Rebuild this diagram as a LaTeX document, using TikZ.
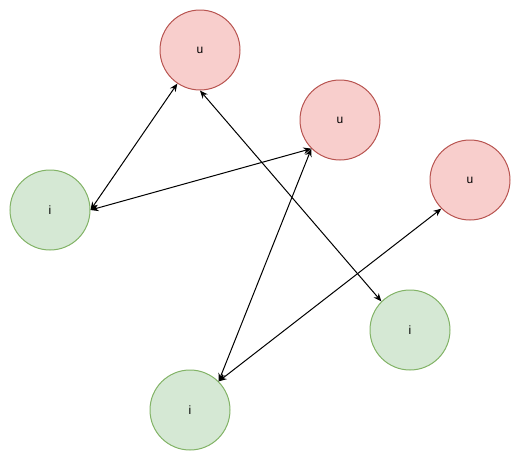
\documentclass[tikz,border=0pt]{standalone}
\usepackage{fontspec}
\setmainfont{Liberation Sans}
\usetikzlibrary{arrows.meta}
\definecolor{ufill}{HTML}{F8CECC}
\definecolor{uline}{HTML}{B85450}
\definecolor{ifill}{HTML}{D5E8D4}
\definecolor{iline}{HTML}{82B366}
\tikzset{
  every picture/.style={font=\fontsize{9}{11}\selectfont, line width=0.75pt},
  ball/.style={circle, draw=#1line, fill=#1fill, minimum size=60pt, inner sep=0pt},
  link/.style={{Stealth[length=6pt, width=5pt]}-{Stealth[length=6pt, width=5pt]}, draw=black},
}
\begin{document}
\begin{tikzpicture}[x=0.75pt, y=-0.75pt]
  \useasboundingbox (0,0) rectangle (521,461);
  % users
  \node[ball=u] (u1) at (200,50) {u};
  \node[ball=u] (u2) at (340,120) {u};
  \node[ball=u] (u3) at (470,180) {u};
  % items
  \node[ball=i] (i1) at (50,210) {i};
  \node[ball=i] (i2) at (410,330) {i};
  \node[ball=i] (i3) at (190,410) {i};
  % links
  \draw[link] (u1.-124) -- (i1.east);
  \draw[link] (i1.east) -- (u2.south west);
  \draw[link] (u1.south) -- (i2.north west);
  \draw[link] (u2.south west) -- (i3.north east);
  \draw[link] (u3.south west) -- (i3.north east);
\end{tikzpicture}
\end{document}
